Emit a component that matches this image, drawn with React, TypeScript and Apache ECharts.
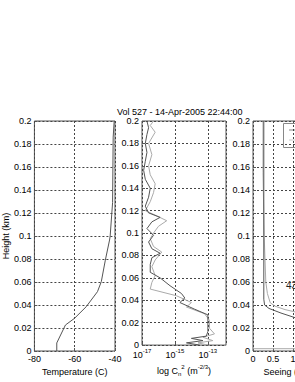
import React, { useEffect, useRef } from "react";
import * as echarts from "echarts";

const TITLE = "Vol 527 - 14-Apr-2005 22:44:00";
const FONT = "Liberation Sans, Arial, sans-serif";

// Temperature profile: [temperature (C), height (km)]
const tempProfile: [number, number][] = [
  [-68.9, 0], [-68.9, 0.007], [-64.6, 0.0226], [-60.1, 0.0284], [-54.3, 0.0385],
  [-48.7, 0.0516], [-46.8, 0.0603], [-44.8, 0.079], [-42.7, 0.0965], [-42.4, 0.1],
  [-41.2, 0.129], [-40.9, 0.186], [-40.4, 0.2],
];

// log10(Cn2) profiles: [exponent, height (km)]
const cn2Dark: [number, number][] = [
  [-13.5, 0], [-14.3, 0.002], [-13.3, 0.004], [-14.0, 0.006], [-13.1, 0.008], [-13.0, 0.012],
  [-13.0, 0.02], [-13.0, 0.027], [-13.8, 0.032], [-14.7, 0.038], [-14.4, 0.042], [-14.6, 0.046],
  [-15.3, 0.053], [-15.9, 0.06], [-16.5, 0.065], [-16.5, 0.072], [-16.4, 0.078], [-15.9, 0.082],
  [-16.4, 0.086], [-16.6, 0.092], [-16.3, 0.098], [-16.7, 0.104], [-16.4, 0.11], [-15.9, 0.114],
  [-16.6, 0.118], [-16.8, 0.124], [-16.6, 0.132], [-16.5, 0.14], [-16.8, 0.148], [-16.9, 0.156],
  [-16.8, 0.164], [-16.7, 0.172], [-16.8, 0.18], [-16.7, 0.188], [-16.6, 0.194], [-16.7, 0.2],
];
const cn2Light: [number, number][] = [
  [-13.0, 0], [-13.6, 0.002], [-12.7, 0.004], [-13.3, 0.007], [-12.6, 0.01], [-12.9, 0.015],
  [-12.9, 0.022], [-13.2, 0.028], [-14.3, 0.034], [-14.0, 0.038], [-14.9, 0.044], [-16.5, 0.05],
  [-16.4, 0.056], [-16.2, 0.062], [-16.4, 0.07], [-16.2, 0.076], [-15.8, 0.083], [-16.3, 0.088],
  [-16.5, 0.095], [-16.3, 0.1], [-16.0, 0.106], [-15.5, 0.111], [-16.2, 0.116], [-16.8, 0.12],
  [-16.5, 0.128], [-16.3, 0.136], [-16.2, 0.144], [-16.5, 0.152], [-16.6, 0.16], [-16.4, 0.17],
  [-16.6, 0.18], [-16.2, 0.19], [-16.5, 0.196], [-16.3, 0.2],
];
const cn2Exponents = [-17, -15, -13];

// Seeing profiles: [seeing (arcsec), height (km)]
const seeingDark: [number, number][] = [
  [0.27, 0.2], [0.27, 0.045], [0.29, 0.04], [0.4, 0.037], [0.7, 0.033], [1.05, 0.029],
  [1.6, 0.025], [2.1, 0.021],
];
const seeingLight: [number, number][] = [
  [0.25, 0.2], [0.25, 0.155], [0.28, 0.1], [0.32, 0.06], [0.36, 0.05], [0.43, 0.042],
  [0.55, 0.039], [0.8, 0.036], [1.05, 0.034], [1.6, 0.03], [2.1, 0.027],
];
const seeingGround: [number, number][] = [[0, 0.002], [2.1, 0.002]];
const seeingNote = "43";

const CN2_OFFSET = 17;

export default function App() {
  const ref = useRef<HTMLDivElement>(null);
  useEffect(() => {
    if (!ref.current) return;
    const chart = echarts.init(ref.current, undefined, { renderer: "svg" });
    const grids = [31, 142, 253].map((left) => ({
      left, top: 121, width: 84, height: 230, show: true,
      borderColor: "#555", borderWidth: 1, backgroundColor: "#fff",
    }));
    const split = { show: true, lineStyle: { type: [2, 2] as any, color: "#444", width: 1 } };
    const label = { fontSize: 9, color: "#000", fontFamily: FONT };
    const tick = { show: true, inside: true, length: 3, lineStyle: { color: "#555" } };
    const yAxes = [0, 1, 2].map((i) => ({
      type: "value", gridIndex: i, min: 0, max: 0.2, interval: 0.02,
      axisLine: { show: false }, axisTick: tick, splitLine: split,
      axisLabel: { ...label, margin: 3, formatter: (v: number) => String(+v.toFixed(2)) },
      ...(i === 0
        ? { name: "Height (km)", nameLocation: "middle", nameGap: 21,
            nameTextStyle: { fontSize: 9, color: "#000", fontFamily: FONT } }
        : {}),
    }));
    const nameStyle = { fontSize: 9, color: "#000", fontFamily: FONT };
    const xAxes = [
      {
        type: "value", gridIndex: 0, min: -80, max: -40, interval: 20,
        axisLine: { show: false }, axisTick: tick, splitLine: split,
        axisLabel: { ...label, margin: 3 },
        name: "Temperature (C)", nameLocation: "middle", nameGap: 16, nameTextStyle: nameStyle,
      },
      {
        type: "value", gridIndex: 1, min: 0, max: 5.1, interval: 2,
        axisLine: { show: false }, axisTick: tick, splitLine: split,
        axisLabel: {
          ...label, margin: 3, showMaxLabel: false,
          formatter: (v: number) => {
            const e = Math.round(v - CN2_OFFSET);
            return cn2Exponents.includes(e) && Math.abs(v - Math.round(v)) < 1e-6
              ? `{b|10}{s|${e}}` : "";
          },
          rich: {
            b: { fontSize: 9, lineHeight: 13, color: "#000", fontFamily: FONT },
            s: { fontSize: 6, lineHeight: 5, verticalAlign: "top", color: "#000", fontFamily: FONT },
          },
        },
        name: "{t|log C}{sub|n}{sup|2}{t| (m}{sup|-2/3}{t|)}",
        nameLocation: "middle", nameGap: 16,
        nameTextStyle: {
          ...nameStyle,
          rich: {
            t: { fontSize: 9, lineHeight: 13, color: "#000", fontFamily: FONT },
            sup: { fontSize: 6, lineHeight: 5, verticalAlign: "top", color: "#000", fontFamily: FONT },
            sub: { fontSize: 6, lineHeight: 5, verticalAlign: "bottom", color: "#000", fontFamily: FONT },
          },
        },
      },
      {
        type: "value", gridIndex: 2, min: 0, max: 2.1, interval: 0.5,
        axisLine: { show: false }, axisTick: tick, splitLine: split,
        axisLabel: { ...label, margin: 3, showMaxLabel: false,
          formatter: (v: number) => String(+v.toFixed(1)) },
        name: "Seeing (arcsec)", nameLocation: "middle", nameGap: 16, nameTextStyle: nameStyle,
      },
    ];
    const line = (xi: number, data: [number, number][], color: string) => ({
      type: "line", xAxisIndex: xi, yAxisIndex: xi, data, showSymbol: false, symbol: "none",
      lineStyle: { color, width: 1 }, silent: true,
    });
    chart.setOption({
      animation: false,
      backgroundColor: "#fff",
      grid: grids,
      xAxis: xAxes,
      yAxis: yAxes,
      series: [
        line(0, tempProfile, "#555"),
        line(1, cn2Light.map(([e, h]) => [e + CN2_OFFSET, h]) as [number, number][], "#aaa"),
        line(1, cn2Dark.map(([e, h]) => [e + CN2_OFFSET, h]) as [number, number][], "#555"),
        line(2, seeingGround, "#aaa"),
        line(2, seeingLight, "#aaa"),
        line(2, seeingDark, "#555"),
      ],
      graphic: [
        { type: "text", left: 117, top: 107,
          style: { text: TITLE, fontSize: 9, fill: "#000", fontFamily: FONT } },
        { type: "rect", shape: { x: 283.5, y: 123.5, width: 40, height: 24 },
          style: { fill: "#fff", stroke: "#888", lineWidth: 1 } },
        { type: "line", shape: { x1: 289, y1: 130, x2: 300, y2: 130 },
          style: { stroke: "#888", lineWidth: 1 } },
        { type: "line", shape: { x1: 289, y1: 140, x2: 300, y2: 140 },
          style: { stroke: "#ccc", lineWidth: 1 } },
        { type: "text", x: 286, y: 280,
          style: { text: seeingNote, fontSize: 10, fill: "#222", fontFamily: FONT } },
      ],
    } as any);
    return () => chart.dispose();
  }, []);
  return (
    <div style={{ position: "fixed", left: 0, top: 0, width: 295, height: 382, overflow: "hidden", background: "#fff" }}>
      <div ref={ref} style={{ width: 350, height: 382 }} />
    </div>
  );
}
